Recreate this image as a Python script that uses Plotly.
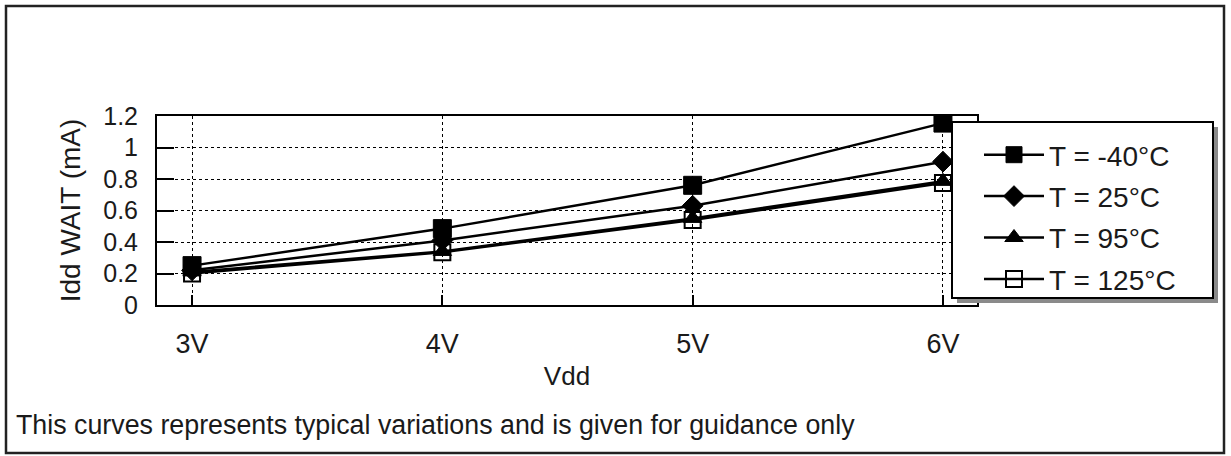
import plotly.graph_objects as go

categories = ["3V", "4V", "5V", "6V"]
t_m40 = [0.25, 0.485, 0.76, 1.155]
t_25 = [0.22, 0.41, 0.63, 0.91]
t_95 = [0.21, 0.34, 0.55, 0.785]
t_125 = [0.20, 0.335, 0.54, 0.775]
series_names = ["T = -40°C", "T = 25°C", "T = 95°C", "T = 125°C"]

W, H = 1231, 456
L, R, T, B = 157, 977, 116, 305  # plot area in px


def px_x(p):
    return (p - L) / (R - L)


def px_y(p):
    return (B - p) / (B - T)


FONT = "Liberation Sans, Arial, sans-serif"

fig = go.Figure()
styles = [
    dict(symbol="square", size=18, color="black", line=dict(color="black", width=1)),
    dict(symbol="diamond", size=16, color="black", line=dict(color="black", width=1)),
    dict(symbol="triangle-up", size=16, color="black", line=dict(color="black", width=1)),
    dict(symbol="square-open", size=16, color="black", line=dict(color="black", width=2)),
]
for name, vals, st in zip(series_names, [t_m40, t_25, t_95, t_125], styles):
    fig.add_trace(go.Scatter(
        x=categories, y=vals, name=name, mode="lines+markers",
        line=dict(color="black", width=2.5),
        marker=st, legendgroup=name,
    ))

shapes = [
    # outer frame
    dict(type="rect", xref="paper", yref="paper",
         x0=px_x(6), x1=px_x(1224), y0=px_y(453), y1=px_y(6),
         line=dict(color="#222", width=2.5), fillcolor="rgba(0,0,0,0)", layer="below"),
    # legend shadow
    dict(type="rect", xref="paper", yref="paper",
         x0=px_x(957), x1=px_x(1218), y0=px_y(303), y1=px_y(127),
         line=dict(width=0), fillcolor="#8a8a8a", layer="above"),
    # legend box
    dict(type="rect", xref="paper", yref="paper",
         x0=px_x(952), x1=px_x(1213), y0=px_y(298), y1=px_y(122),
         line=dict(color="black", width=2), fillcolor="white", layer="above"),
]

fig.update_layout(
    width=W, height=H,
    margin=dict(l=L, r=W - R, t=T, b=H - B),
    paper_bgcolor="white", plot_bgcolor="white",
    font=dict(family=FONT, color="#1a1a1a", size=24),
    showlegend=True,
    legend=dict(
        x=px_x(979), y=px_y(130), xanchor="left", yanchor="top",
        bgcolor="rgba(0,0,0,0)", borderwidth=0,
        font=dict(size=28, family=FONT, color="#1a1a1a"),
        tracegroupgap=2, itemwidth=60,
    ),
    shapes=shapes,
    xaxis=dict(
        type="category", range=[-0.14, 3.136],
        showgrid=True, gridcolor="black", gridwidth=1, griddash="dot",
        showline=True, linecolor="black", linewidth=2, mirror=True,
        ticks="inside", ticklen=10, tickcolor="black", tickwidth=1.5,
        tickfont=dict(size=27), ticklabelstandoff=14,
        title=dict(text="Vdd", font=dict(size=26), standoff=8),
        zeroline=False,
    ),
    yaxis=dict(
        range=[0, 1.2], dtick=0.2,
        showgrid=True, gridcolor="black", gridwidth=1, griddash="dot",
        showline=True, linecolor="black", linewidth=2, mirror=True,
        ticks="inside", ticklen=17, tickcolor="black", tickwidth=1.5,
        tickfont=dict(size=25), ticklabelstandoff=12,
        title=dict(text="Idd WAIT (mA)", font=dict(size=28), standoff=14),
        zeroline=False,
    ),
    annotations=[
        dict(text="This curves represents typical variations and is given for guidance only",
             xref="paper", yref="paper", x=px_x(14), y=px_y(425),
             xanchor="left", yanchor="middle", showarrow=False,
             font=dict(size=26.8, family=FONT, color="#1a1a1a")),
    ],
)

fig.write_html(
    "out.html",
    config={"displayModeBar": False},
    post_script="document.body.style.margin='0';document.body.style.overflow='hidden';",
)
